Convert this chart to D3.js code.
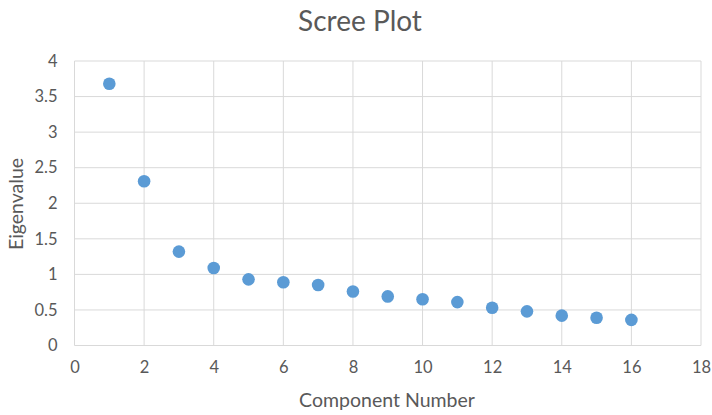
<!DOCTYPE html>
<html>
<head>
<meta charset="utf-8">
<script src="https://cdn.jsdelivr.net/npm/d3@7"></script>
<style>
  body { margin: 0; background: #fff; }
  text { font-family: Lato, "Open Sans", sans-serif; fill: #595959; }
</style>
</head>
<body>
<svg id="svg" width="712" height="415"></svg>
<script>
const components = [1, 2, 3, 4, 5, 6, 7, 8, 9, 10, 11, 12, 13, 14, 15, 16];
const eigenvalues = [3.68, 2.31, 1.32, 1.09, 0.93, 0.89, 0.85, 0.76, 0.69, 0.65, 0.61, 0.53, 0.48, 0.42, 0.39, 0.36];
const xTicks = [0, 2, 4, 6, 8, 10, 12, 14, 16, 18];
const yTicks = [0, 0.5, 1, 1.5, 2, 2.5, 3, 3.5, 4];

const plotLeft = 74.5, plotRight = 701, plotTop = 61, plotBottom = 345.5;

const x = d3.scaleLinear().domain([0, 18]).range([plotLeft, plotRight]),
    y = d3.scaleLinear().domain([0, 4]).range([plotBottom, plotTop]);

const svg = d3.select("#svg");

// grid
svg.append("g").selectAll("line").data(yTicks).join("line")
    .attr("x1", plotLeft).attr("x2", plotRight)
    .attr("y1", d => y(d)).attr("y2", d => y(d))
    .style("stroke", "#d9d9d9").style("stroke-width", 1);
svg.append("g").selectAll("line").data(xTicks).join("line")
    .attr("x1", d => x(d)).attr("x2", d => x(d))
    .attr("y1", plotTop).attr("y2", plotBottom)
    .style("stroke", "#d9d9d9").style("stroke-width", 1);

// axes (labels only)
const xAxis = svg.append("g").attr("transform", "translate(0," + plotBottom + ")")
    .call(d3.axisBottom(x).tickValues(xTicks).tickSize(0).tickPadding(16));
const yAxis = svg.append("g").attr("transform", "translate(" + plotLeft + ",0)")
    .call(d3.axisLeft(y).tickValues(yTicks).tickSize(0).tickPadding(17).tickFormat(d3.format("")));
[xAxis, yAxis].forEach(a => {
    a.select(".domain").remove();
    a.selectAll("text").style("font-size", "16.5px").style("fill", "#595959")
        .style("font-family", "Lato, 'Open Sans', sans-serif");
});

// points
svg.append("g").selectAll("circle").data(components).join("circle")
    .attr("cx", d => x(d))
    .attr("cy", (d, i) => y(eigenvalues[i]))
    .attr("r", 6.3)
    .style("fill", "#5b9bd5");

// titles
svg.append("text").attr("x", 360).attr("y", 31).attr("text-anchor", "middle")
    .style("font-size", "28px").text("Scree Plot");
svg.append("text").attr("x", 387).attr("y", 407).attr("text-anchor", "middle")
    .style("font-size", "19.5px").text("Component Number");
svg.append("text").attr("transform", "translate(23,204) rotate(-90)").attr("text-anchor", "middle")
    .style("font-size", "19.5px").text("Eigenvalue");
</script>
</body>
</html>
